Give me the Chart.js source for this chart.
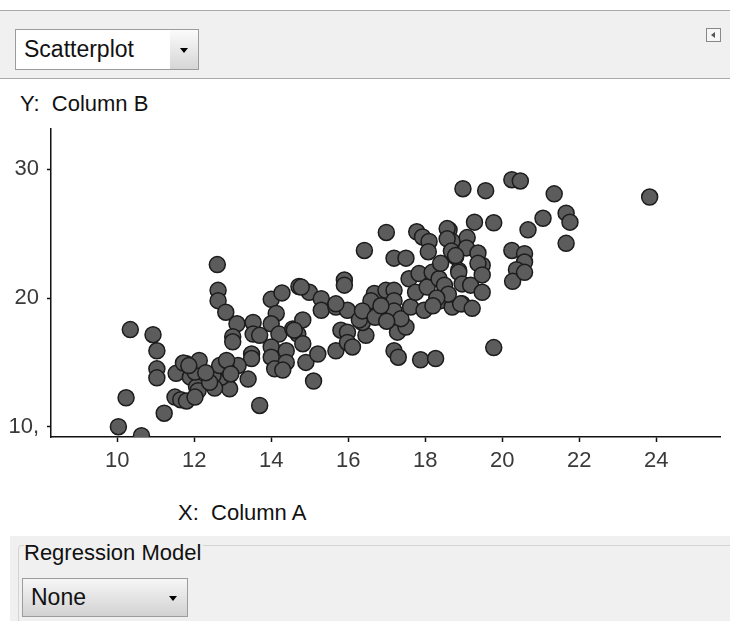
<!DOCTYPE html>
<html>
<head>
<meta charset="utf-8">
<script src="https://cdn.jsdelivr.net/npm/chart.js@4.4.1/dist/chart.umd.min.js"></script>
<style>
  body { margin: 0; width: 730px; height: 621px; position: relative; overflow: hidden; background: #fff;
         font-family: "Liberation Sans", Arial, sans-serif; color: #111; }
  .toolbar { position: absolute; left: 0; top: 10px; width: 730px; height: 67px; background: #f0f0f0;
             border-top: 1px solid #aaa; border-bottom: 1px solid #aaa; }
  .select { position: absolute; box-sizing: border-box; border: 1px solid #9c9c9c; font-size: 23px; }
  .select .txt { position: absolute; left: 8px; top: 50%; transform: translateY(-52%); }
  .select .arrow { position: absolute; right: 0; top: 0; bottom: 0; width: 28px;
                   background: linear-gradient(#fbfbfb, #d6d6d6); }
  .select .arrow:after { content: ""; position: absolute; left: 10px; top: 50%; margin-top: -2px;
                         border-left: 4px solid transparent; border-right: 4px solid transparent; border-top: 5px solid #000; }
  .icon { position: absolute; left: 706px; top: 17px; width: 13px; height: 12px; border: 1px solid #888; background: #f6f6f6; }
  .icon:after { content: ""; position: absolute; left: 4px; top: 3px; border-top: 3px solid transparent;
                border-bottom: 3px solid transparent; border-right: 4px solid #555; }
  .label { position: absolute; font-size: 22px; white-space: pre; }
  .panel { position: absolute; left: 10px; top: 536px; width: 720px; height: 85px; background: #f0f0f0; }
  .group { position: absolute; left: 18px; top: 545px; width: 712px; height: 76px;
           border-top: 1px solid #d4d4d4; border-left: 1px solid #d4d4d4; border-radius: 4px 0 0 0; }
  #wrap { position: absolute; left: 0; top: 99px; width: 730px; height: 390px; }
</style>
</head>
<body>
<div class="toolbar">
  <div class="select" style="left:15px;top:18px;width:184px;height:41px;background:#fff;">
    <span class="txt">Scatterplot</span><span class="arrow"></span>
  </div>
  <div class="icon"></div>
</div>
<div class="label" style="left:20px;top:91px;">Y:  Column B</div>
<div id="wrap"><canvas id="chart"></canvas></div>
<div class="label" style="left:178px;top:500px;">X:  Column A</div>
<div class="panel"></div>
<div class="group"></div>
<div class="label" style="left:24px;top:540px;background:#f0f0f0;padding-right:2px;">Regression Model</div>
<div class="select" style="left:22px;top:578px;width:166px;height:39px;background:linear-gradient(#f6f6f6,#d2d2d2);">
  <span class="txt">None</span><span class="arrow" style="background:none"></span>
</div>

<script>
// Column A (x) and Column B (y) values
const colA = [
  10.03, 10.23, 10.34, 10.63, 10.93, 11.03, 11.03, 11.03, 11.22, 11.53, 11.5, 11.65, 11.8, 11.8, 11.93, 11.9,
  12.06, 12.02, 12.13, 12.1, 12.02, 11.72, 11.86,
  12.6, 12.62, 12.62, 12.82, 13.11, 13.0, 13.0, 13.53, 13.53, 13.7, 13.49, 13.49, 13.14, 13.4, 12.92, 12.71,
  12.84, 12.53, 12.49, 12.4, 12.66, 12.84, 13.7, 12.3, 12.95,
  14.0, 14.28, 14.13, 14.0, 14.2, 14.0, 14.0, 14.39, 14.39, 14.09, 14.3, 14.72, 14.56, 14.69, 14.82, 14.82,
  14.9, 15.21, 15.1, 14.99, 15.3, 15.3, 14.78, 14.6,
  15.68, 15.68, 15.81, 15.98, 15.98, 16.11, 16.46, 16.37, 15.98, 16.59, 15.9, 15.9, 15.68, 16.42, 16.99, 16.68,
  16.59, 16.98, 16.29, 16.37, 17.19, 17.19, 17.19, 17.19, 17.5, 17.19, 17.3, 17.28, 17.5, 17.37, 17.62, 17.58,
  17.75, 16.7, 16.85, 17.0,
  17.78, 17.93, 18.1, 17.88, 18.27, 17.97, 17.84, 18.05, 18.18, 18.36, 18.4, 18.4, 18.08, 18.62, 18.7, 18.57,
  18.57, 18.68, 18.79, 18.87, 18.87, 18.96, 18.96, 18.7, 18.92, 19.22, 19.18, 19.48, 19.09, 19.07, 19.37, 19.48,
  19.37, 19.48, 18.98, 19.57, 19.28, 19.78, 19.78, 18.79, 18.5, 18.6, 18.3, 18.2,
  20.25, 20.47, 21.35, 21.66, 21.76, 21.66, 21.06, 20.67, 20.25, 20.58, 20.58, 20.37, 20.27, 23.83, 20.58
];
const colB = [
  10.0, 12.25, 17.55, 9.3, 17.15, 15.9, 14.5, 13.8, 11.05, 14.15, 12.3, 12.1, 12.0, 14.9, 14.6, 13.85,
  13.1, 14.25, 15.15, 12.8, 12.3, 14.95, 14.75,
  22.6, 20.6, 19.8, 18.9, 18.0, 17.0, 16.6, 18.1, 17.2, 17.1, 15.65, 15.3, 14.75, 13.7, 12.95, 13.85,
  14.5, 13.0, 14.0, 13.45, 14.75, 15.15, 11.65, 14.2, 14.1,
  19.9, 20.4, 18.8, 18.0, 17.2, 16.2, 15.4, 15.9, 15.0, 14.5, 14.4, 20.9, 17.6, 17.2, 18.3, 16.45,
  15.0, 15.65, 13.55, 20.45, 19.95, 19.05, 20.85, 17.5,
  19.3, 15.9, 17.5, 17.35, 16.55, 16.2, 17.1, 18.1, 19.05, 19.05, 21.4, 21.0, 19.55, 23.7, 25.1, 20.35,
  19.8, 20.6, 18.3, 19.0, 20.6, 19.8, 19.0, 23.1, 23.1, 15.9, 15.4, 17.35, 17.75, 18.4, 19.3, 21.5,
  20.45, 18.5, 19.4, 18.2,
  25.15, 24.75, 24.4, 15.2, 15.3, 19.05, 21.9, 20.85, 22.0, 21.5, 22.7, 19.8, 23.6, 25.3, 24.4, 25.4,
  24.6, 23.65, 23.2, 22.15, 22.0, 21.1, 19.55, 19.3, 19.55, 19.2, 21.0, 20.45, 24.7, 23.9, 23.5, 22.55,
  22.7, 21.8, 28.5, 28.35, 25.9, 25.85, 16.15, 23.3, 21.0, 20.3, 20.0, 19.4,
  29.2, 29.1, 28.1, 26.6, 25.9, 24.25, 26.2, 25.3, 23.7, 23.45, 22.8, 22.2, 21.3, 27.85, 22.0
];

const xTicks = [10, 12, 14, 16, 18, 20, 22, 24];
const yTicks = [10, 20, 30];
const yTickLabels = ['10,', '20', '30'];

const points = colA.map((x, i) => ({ x, y: colB[i] }));

new Chart(document.getElementById('chart'), {
  type: 'scatter',
  data: {
    datasets: [{
      data: points,
      pointRadius: 8,
      pointHoverRadius: 8,
      pointBackgroundColor: '#5c5c5c',
      pointBorderColor: '#1c1c1c',
      pointBorderWidth: 1.5,
    }],
  },
  options: {
    responsive: true, maintainAspectRatio: false, animation: false,
    layout: { padding: { top: 30, right: 7, left: 0, bottom: 0 } },
    plugins: { legend: { display: false }, tooltip: { enabled: false } },
    scales: {
      x: {
        type: 'linear', min: 8.28, max: 25.67,
        afterBuildTicks: (s) => { s.ticks = xTicks.map(v => ({ value: v })); },
        afterFit: (s) => { s.height = 52; },
        grid: { drawOnChartArea: false, tickLength: 5, tickColor: '#111', tickWidth: 1.5 },
        border: { color: '#111', width: 1.5 },
        ticks: { color: '#3a3a3a', padding: 6, font: { family: '"Liberation Sans", Arial', size: 22 } },
      },
      y: {
        type: 'linear', min: 9.2, max: 33.14,
        afterBuildTicks: (s) => { s.ticks = yTicks.map(v => ({ value: v })); },
        afterFit: (s) => { s.width = 51; },
        grid: { drawOnChartArea: false, tickLength: 4, tickColor: '#111', tickWidth: 1.5 },
        border: { color: '#111', width: 1.5 },
        ticks: {
          color: '#3a3a3a', padding: 8, font: { family: '"Liberation Sans", Arial', size: 22 },
          callback: (v) => yTickLabels[yTicks.indexOf(v)],
        },
      },
    },
  },
});
</script>
</body>
</html>
